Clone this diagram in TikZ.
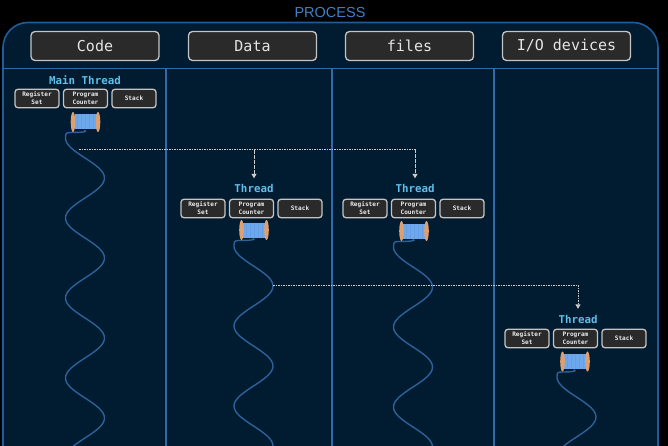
\documentclass[tikz,border=0pt]{standalone}
\usepackage{fontspec}
\setmainfont{Liberation Sans}
\setmonofont{DejaVu Sans Mono}
\usetikzlibrary{arrows.meta}
\definecolor{panelbg}{HTML}{011B30}
\definecolor{panelline}{HTML}{1F5C9A}
\definecolor{divider}{HTML}{2F6BAA}
\definecolor{boxfill}{HTML}{2A2A2A}
\definecolor{boxline}{HTML}{C4C4C4}
\definecolor{titleblue}{HTML}{3F80C6}
\definecolor{threadcyan}{HTML}{5FBFEA}
\definecolor{spoolblue}{HTML}{6EA8EC}
\definecolor{spoolstripe}{HTML}{669FE6}
\definecolor{spoolend}{HTML}{DFA070}
\definecolor{wire}{HTML}{2C6299}
\tikzset{
    headbox/.style={draw=boxline, line width=1.3pt, fill=boxfill, rounded corners=4pt,
        minimum width=128pt, minimum height=29pt, inner sep=0pt, text=white!90!black,
        font=\ttfamily\fontsize{15}{17}\selectfont},
    smallbox/.style={draw=boxline, line width=1.3pt, fill=boxfill, rounded corners=3pt,
        minimum width=44pt, minimum height=18.5pt, inner sep=0pt, align=center, text=white!92!black,
        font=\ttfamily\bfseries\fontsize{6.1}{8}\selectfont},
    threadlabel/.style={inner sep=0pt, text=threadcyan, font=\ttfamily\bfseries\fontsize{10.8}{12}\selectfont},
    wave/.style={draw=wire, line width=1.4pt},
    forkline/.style={draw=white!80!black, line width=1pt, dash pattern=on 1.6pt off 0.9pt,
        -{Triangle[length=4.5pt,width=5pt]}, shorten >=6pt}
}
\begin{document}
\begin{tikzpicture}[x=1pt,y=-1pt]
    \useasboundingbox (0,0) rectangle (668,446);
    \clip (0,0) rectangle (668,446);
    \fill[black] (0,0) rectangle (668,446);

    % Process panel
    \draw[panelline, line width=1.6pt, fill=panelbg, rounded corners=25pt] (3,480) rectangle (658,22.5);
    \node[text=titleblue, font=\fontsize{14.5}{16}\selectfont, inner sep=0pt] (title) at (330,12.5) {PROCESS};

    % Dividers
    \draw[divider, line width=1.4pt] (3,68.5) -- (658,68.5);
    \foreach \x in {166,332,494}
    {
        \draw[divider, line width=1.4pt] (\x,68.5) -- (\x,446);
    }

    % Shared resources
    \node[headbox] (code) at (95,46) {Code};
    \node[headbox] (data) at (252.5,46) {Data};
    \node[headbox] (files) at (409.5,46) {files};
    \node[headbox] (devices) at (566.5,46) {I/O devices};

    % Threads
    \foreach \name/\txt/\bx/\by/\lx/\ly in {
        threadA/Main Thread/85.5/98.5/85/80.5,
        threadB/Thread/251.5/208.5/254/188.7,
        threadC/Thread/413.5/208.5/415/188.7,
        threadD/Thread/575.5/338.5/578/319.2}
    {
        \node[threadlabel] (\name) at (\lx,\ly) {\txt};
        \node[smallbox] (\name reg) at (\bx-48.5,\by) {Register\\Set};
        \node[smallbox] (\name pc) at (\bx,\by) {Program\\Counter};
        \node[smallbox] (\name stack) at (\bx+48.5,\by) {Stack};
    }

    % Thread lines and spools
    \foreach \wx/\sx/\sy/\py in {85/85.5/122/178, 253.5/254/230/286, 413/414/231/287, 576.5/575/361.5/417}
    {
        \draw[wave] (\sx-1,\sy+8) .. controls (\sx+3,\sy+10) and (\sx-5,\sy+10.5) .. (\wx-15,\sy+10.5)
            .. controls (\wx-19,\sy+10.5) and (\wx-19.5,\py-44) .. (\wx-19.5,\py-40)
            -- plot[variable=\t, domain=-40:280, samples=129, smooth] ({\wx+19.5*cos(\t*4.5)},{\py+\t});
        \fill[spoolblue] (\sx-11,\sy-7.5) rectangle (\sx+11,\sy+7.5);
        \foreach \d in {-8,-4,0,4,8}
        {
            \draw[spoolstripe, line width=0.6pt] (\sx+\d,\sy-7.5) -- (\sx+\d,\sy+7.5);
        }
        \fill[spoolend] (\sx-12.5,\sy) ellipse (2.3 and 10);
        \fill[spoolend] (\sx+12.5,\sy) ellipse (2.3 and 10);
    }

    % Forks
    \coordinate (mainTap) at (79,150);
    \coordinate (dataTap) at (273,285);
    \draw[forkline] (mainTap) -| (threadB.north);
    \draw[forkline] (mainTap) -| (threadC.north);
    \draw[forkline] (dataTap) -| (threadD.north);
\end{tikzpicture}
\end{document}
